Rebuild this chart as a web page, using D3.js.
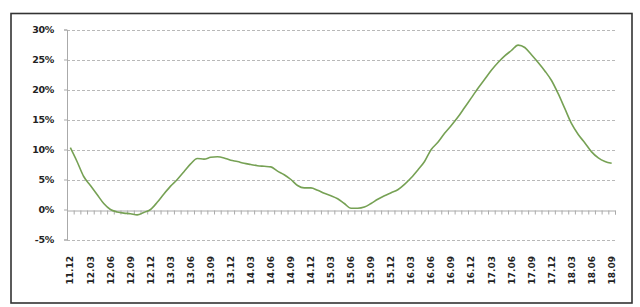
<!DOCTYPE html>
<html>
<head>
<meta charset="utf-8">
<script src="https://cdn.jsdelivr.net/npm/d3@7"></script>
<style>
  body { margin: 0; background: #fff; }
  svg text { font-family: "DejaVu Sans", sans-serif; font-weight: bold; fill: #222; }
</style>
</head>
<body>
<div id="chart"></div>
<script>
// monthly values (%) from 11.12 to 18.09
const values = [
  10.3, 8.0, 5.5, 4.0, 2.5, 1.0, 0.0, -0.4, -0.6, -0.7, -0.9, -0.5,
  0.0, 1.2, 2.6, 3.9, 5.0, 6.3, 7.6, 8.5, 8.4, 8.7, 8.8, 8.6,
  8.2, 8.0, 7.7, 7.5, 7.3, 7.2, 7.1, 6.4, 5.8, 5.0, 4.0, 3.6,
  3.6, 3.2, 2.7, 2.3, 1.8, 1.0, 0.2, 0.2, 0.4, 1.0, 1.7, 2.3,
  2.8, 3.3, 4.2, 5.3, 6.6, 8.0, 10.0, 11.2, 12.7, 14.0, 15.4, 17.0,
  18.6, 20.2, 21.7, 23.2, 24.5, 25.6, 26.5, 27.4, 27.0, 25.8, 24.5, 23.1,
  21.5, 19.3, 16.8, 14.3, 12.5, 11.1, 9.6, 8.6, 8.0, 7.7
];

// quarterly tick labels
const labels = [
  "11.12", "12.03", "12.06", "12.09", "12.12", "13.03", "13.06", "13.09", "13.12",
  "14.03", "14.06", "14.09", "14.12", "15.03", "15.06", "15.09", "15.12",
  "16.03", "16.06", "16.09", "16.12", "17.03", "17.06", "17.09", "17.12",
  "18.03", "18.06", "18.09"
];

const yTicks = [-5, 0, 5, 10, 15, 20, 25, 30];

const width = 640, height = 307;
const plot = {left: 67, right: 615, top: 29.5, bottom: 239.5};

const svg = d3.select("#chart").append("svg")
    .attr("width", width)
    .attr("height", height);

// outer frame
svg.append("rect")
    .attr("x", 11).attr("y", 13.5)
    .attr("width", 621).attr("height", 289.5)
    .attr("fill", "#fff")
    .attr("stroke", "#333")
    .attr("stroke-width", 1.6);

const X = d3.scaleLinear()
    .domain([-0.5, values.length - 0.5])
    .range([plot.left, plot.right]);

const Y = d3.scaleLinear()
    .domain([-5, 30])
    .range([plot.bottom, plot.top]);

// gridlines (dashed)
svg.append("g")
    .selectAll("line")
    .data(yTicks.filter(d => d !== 0))
    .enter()
    .append("line")
        .attr("x1", plot.left)
        .attr("x2", plot.right)
        .attr("y1", d => Math.round(Y(d)) + 0.5)
        .attr("y2", d => Math.round(Y(d)) + 0.5)
        .attr("stroke", "#b8b8b8")
        .attr("stroke-dasharray", "3,2");

// y axis labels
const yAxis = svg.append("g")
    .attr("transform", "translate(" + plot.left + ",0)")
    .call(d3.axisLeft(Y).tickValues(yTicks).tickSize(3).tickFormat(d => d + "%"));
yAxis.select(".domain").attr("stroke", "#aaa");
yAxis.selectAll(".tick line").attr("stroke", "#aaa");
yAxis.selectAll("text")
    .attr("x", -13)
    .attr("font-size", "9.5px")
    .attr("letter-spacing", "-0.3px");

// x axis on 0%: monthly tick marks
const boundaries = d3.range(values.length + 1).map(i => i - 0.5);
const xAxis = svg.append("g")
    .attr("transform", "translate(0," + (Math.round(Y(0)) + 0.5) + ")")
    .call(d3.axisBottom(X).tickValues(boundaries).tickSize(4).tickFormat(""));
xAxis.select(".domain").attr("stroke", "#aaa");
xAxis.selectAll(".tick line").attr("stroke", "#aaa");

// rotated quarter labels
svg.append("g")
    .selectAll("text")
    .data(labels)
    .enter()
    .append("text")
        .attr("transform", (d, i) => "translate(" + X(i * 3) + ",256) rotate(-90)")
        .attr("text-anchor", "end")
        .attr("dy", "0.35em")
        .attr("font-size", "9px")
        .text(d => d);

// the line
const line = d3.line()
    .x((d, i) => X(i))
    .y(d => Y(d))
    .curve(d3.curveMonotoneX);

svg.append("path")
    .datum(values)
    .attr("d", line)
    .attr("fill", "none")
    .attr("stroke", "#76a154")
    .attr("stroke-width", 1.6);
</script>
</body>
</html>
